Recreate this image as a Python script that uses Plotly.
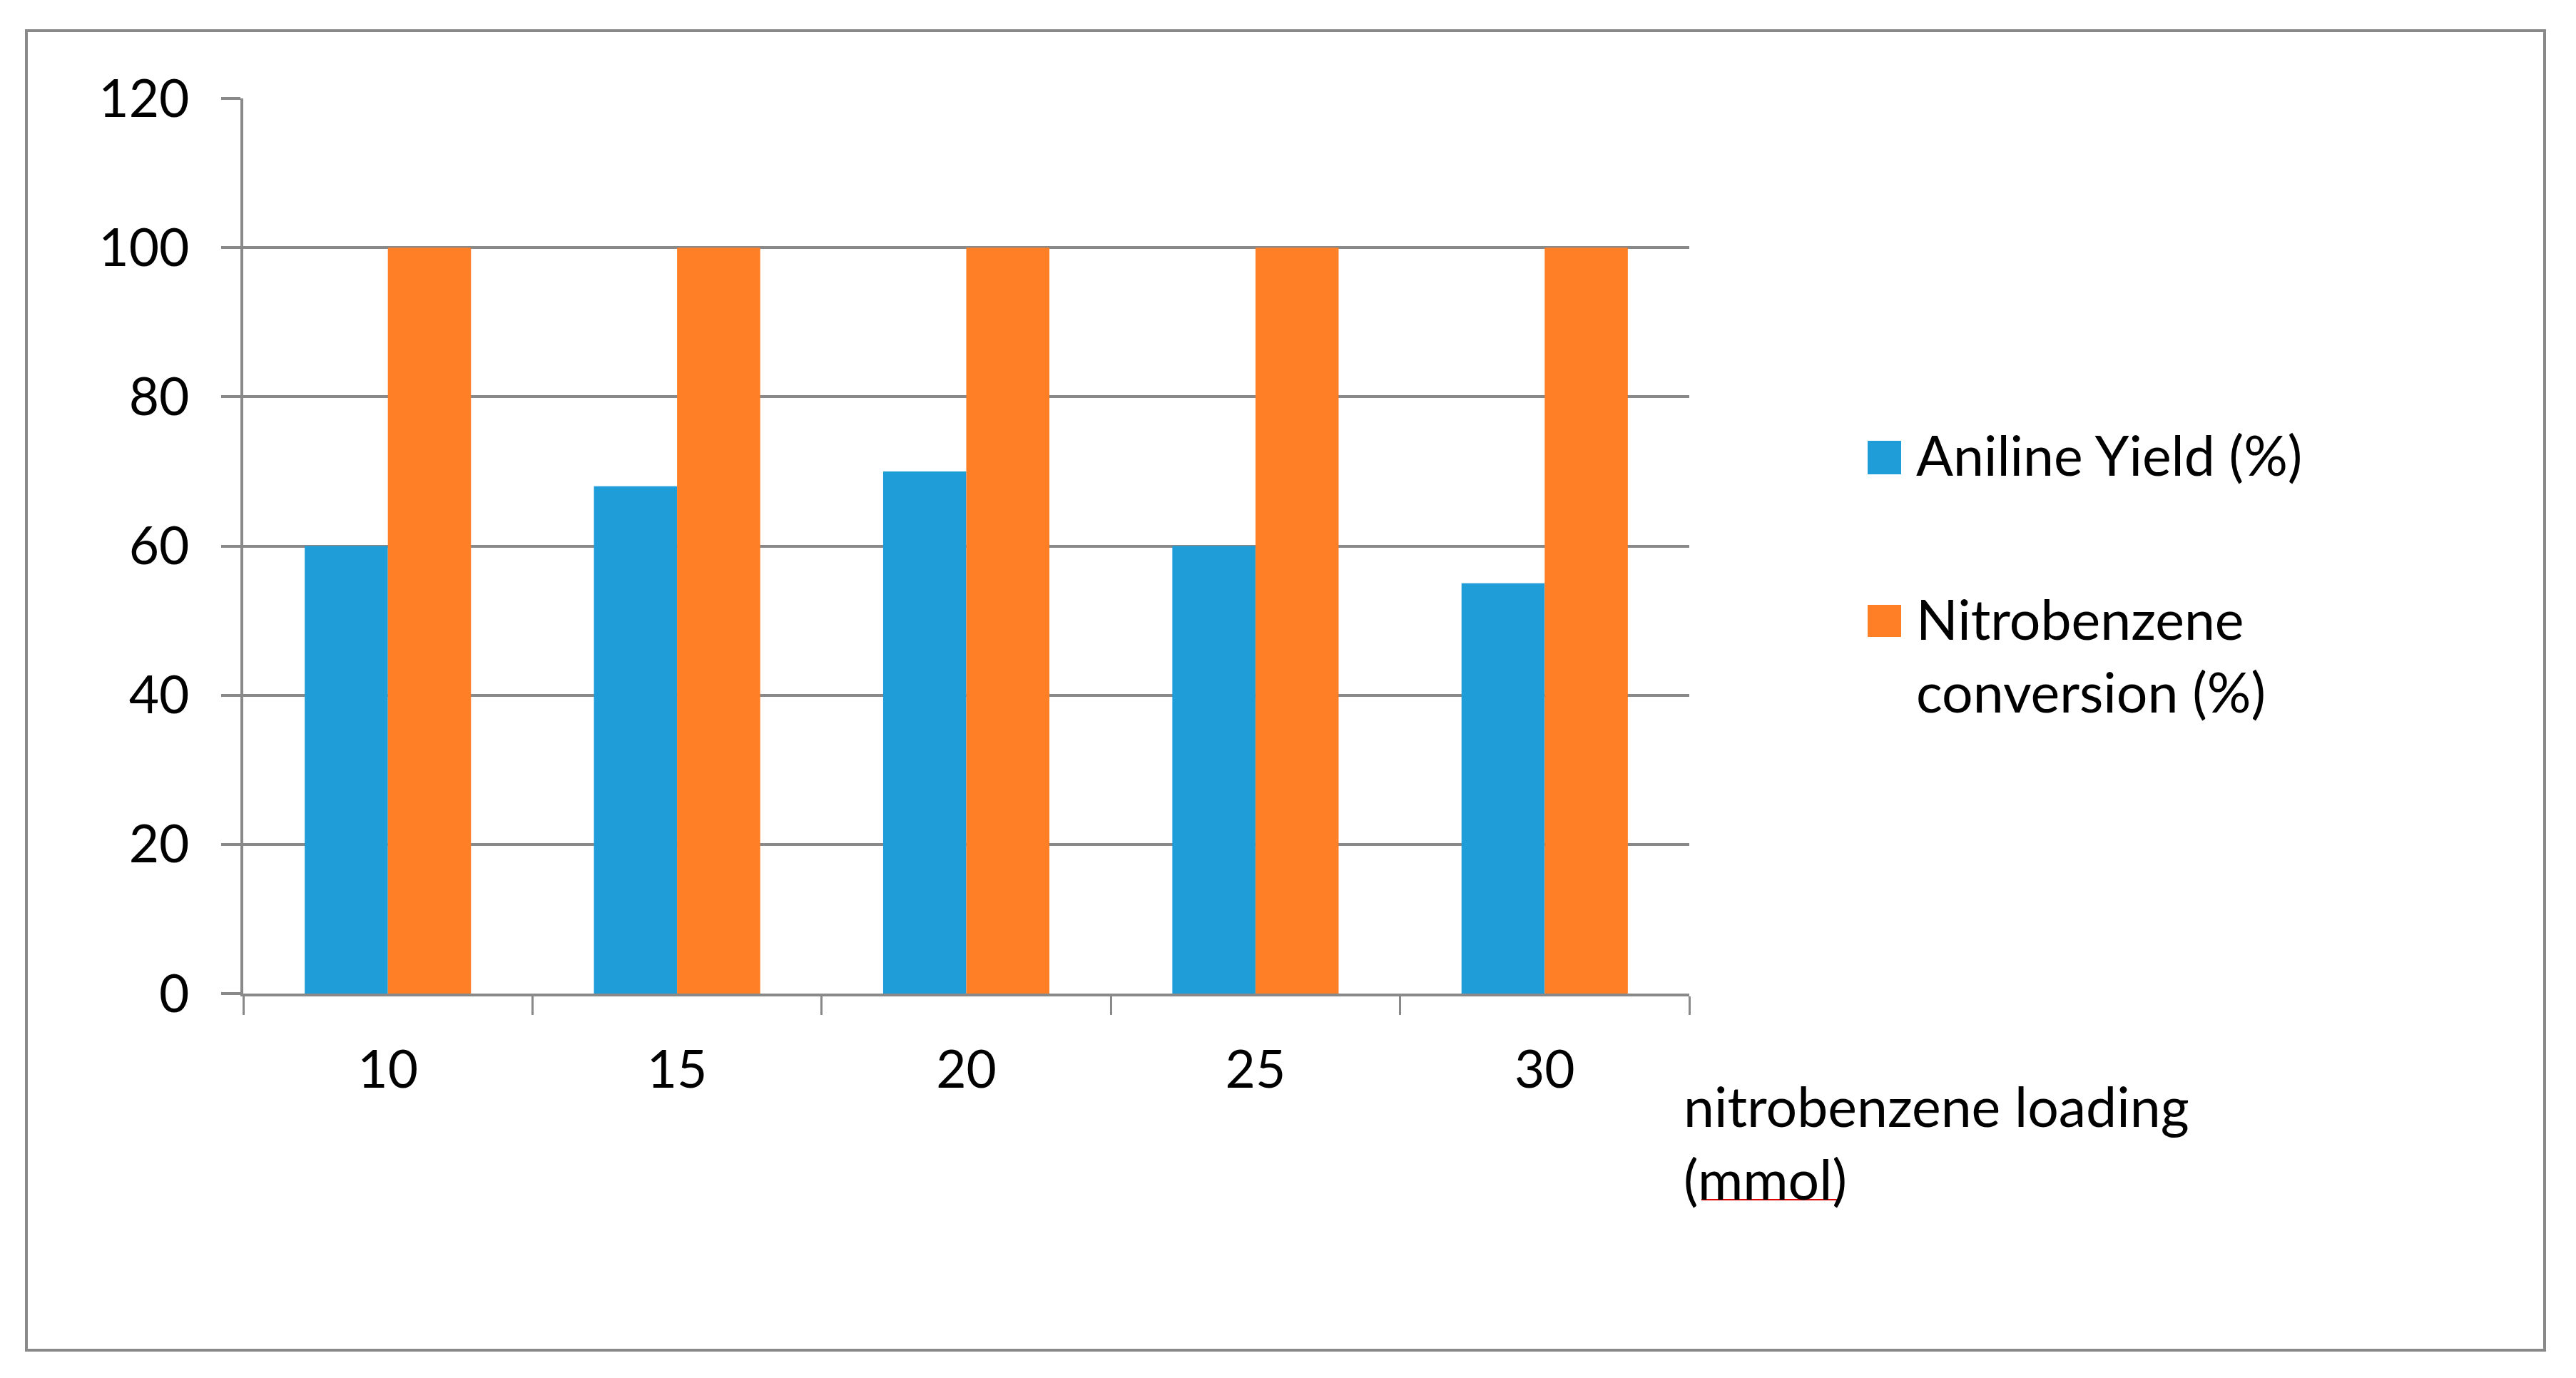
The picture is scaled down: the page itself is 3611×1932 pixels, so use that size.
import plotly.graph_objects as go

# ---- data ----
loading = ["10", "15", "20", "25", "30"]
aniline_yield = [60, 68, 70, 60, 55]
nb_conversion = [100, 100, 100, 100, 100]
series_names = ["Aniline Yield (%)", "Nitrobenzene conversion (%)"]
y_ticks = [0, 20, 40, 60, 80, 100, 120]
x_title = ["nitrobenzene loading", "(mmol)"]

# ---- layout constants (page pixels; the page body adds an 8px margin) ----
OFF = 8
W, H = 3611 - 2 * OFF, 1932 - 2 * OFF
L, R, T, B = 341 - OFF, 2368 - OFF, 138 - OFF, 1393 - OFF
BLUE = "#1E9DD9"
ORANGE = "#FF7F27"
GREY = "#898989"
FONT = "Lato"
FS = 73
FS_TXT = 77


def px(xp):
    return (xp - OFF - L) / (R - L)


def py(yp):
    return (B - (yp - OFF)) / (B - T)


fig = go.Figure()
fig.add_trace(go.Bar(x=loading, y=aniline_yield, name=series_names[0],
                     marker=dict(color=BLUE, line=dict(width=0)), showlegend=False))
fig.add_trace(go.Bar(x=loading, y=nb_conversion, name=series_names[1],
                     marker=dict(color=ORANGE, line=dict(width=0)), showlegend=False))

shapes = []
# outer border
shapes.append(dict(type="rect", xref="paper", yref="paper",
                   x0=px(37), x1=px(3567), y0=py(1893), y1=py(43),
                   line=dict(color=GREY, width=4), fillcolor="rgba(0,0,0,0)", layer="below"))
# legend swatches
shapes.append(dict(type="rect", xref="paper", yref="paper",
                   x0=px(2618), x1=px(2665), y0=py(665), y1=py(618),
                   line=dict(width=0), fillcolor=BLUE))
shapes.append(dict(type="rect", xref="paper", yref="paper",
                   x0=px(2618), x1=px(2665), y0=py(893), y1=py(848),
                   line=dict(width=0), fillcolor=ORANGE))
# spell-check underline under "mmol"
shapes.append(dict(type="line", xref="paper", yref="paper",
                   x0=px(2385), x1=px(2580), y0=py(1682), y1=py(1682),
                   line=dict(color="#E00000", width=2)))

ann_font = dict(family=FONT, size=FS_TXT, color="black")
annotations = []


def add_text(text, x_left, baseline):
    annotations.append(dict(text=text, xref="paper", yref="paper",
                            x=px(x_left), y=py(baseline - 28),
                            xanchor="left", yanchor="middle", showarrow=False,
                            font=ann_font, align="left"))


add_text(series_names[0], 2684, 665)
add_text("Nitrobenzene", 2684, 895)
add_text("conversion (%)", 2684, 997)
add_text(x_title[0], 2358, 1578)
add_text(x_title[1], 2358, 1680)

fig.update_layout(
    width=W, height=H,
    margin=dict(l=L, r=W - R, t=T, b=H - B, pad=0),
    paper_bgcolor="white", plot_bgcolor="white",
    barmode="group", bargap=0.425, bargroupgap=0,
    showlegend=False,
    shapes=shapes, annotations=annotations,
    font=dict(family=FONT, size=FS, color="black"),
    xaxis=dict(type="category", showgrid=False, showline=True, linecolor=GREY, linewidth=4,
               ticks="outside", tickson="boundaries", ticklen=26, tickwidth=3, tickcolor=GREY,
               tickfont=dict(family=FONT, size=FS, color="black"), ticklabelstandoff=40,
               zeroline=False, automargin=False),
    yaxis=dict(range=[0, 120], tickvals=y_ticks, showgrid=True, gridcolor=GREY, gridwidth=4,
               showline=True, linecolor=GREY, linewidth=4, zeroline=False,
               ticks="outside", ticklen=27, tickwidth=4, tickcolor=GREY,
               tickfont=dict(family=FONT, size=FS, color="black"), ticklabelstandoff=30,
               automargin=False),
)

fig.write_html("out.html")
